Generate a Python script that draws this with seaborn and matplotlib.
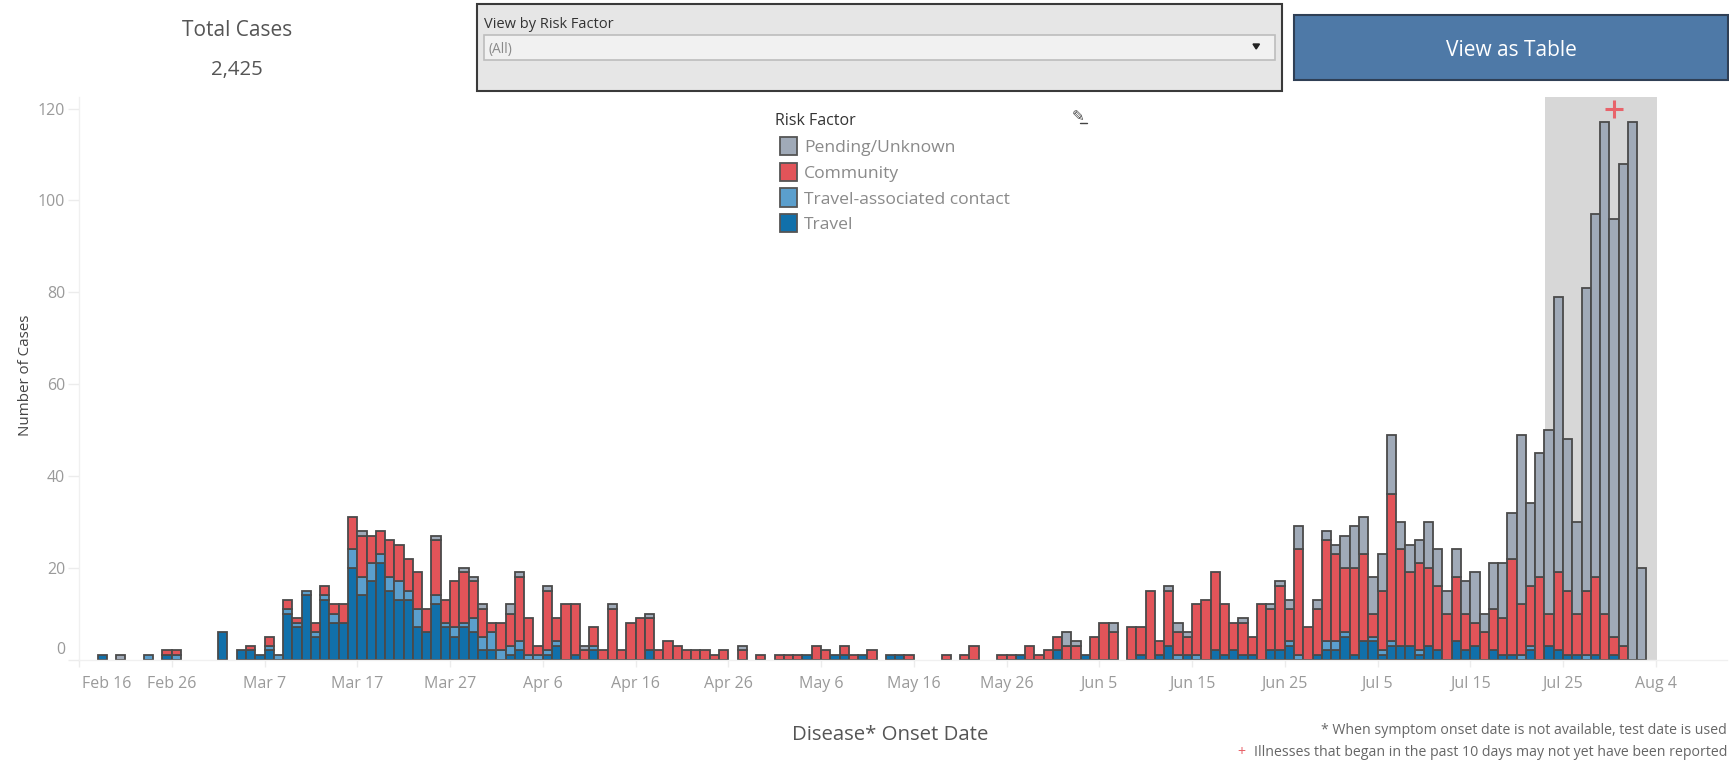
import numpy as np
import pandas as pd
import matplotlib
matplotlib.use("Agg")
import matplotlib.pyplot as plt
from matplotlib.patches import Rectangle, Polygon
from matplotlib.transforms import ScaledTranslation
import seaborn as sns

# cases per onset day, index 0 = Feb 16
travel = [0,0,1,0,0,0,0,0,0,1, 0,0,0,0,0,6,0,2,2,1, 2,0,10,7,14,5,13,8,8,20,
          14,17,21,15,13,13,7,6,12,7, 5,7,6,2,2,0,1,2,0,0, 1,3,0,1,0,2,0,0,0,0,
          0,2,0,0,0,0,0,0,0,0, 0,0,0,0,0,0,0,0,1,0, 0,1,1,0,1,0,0,1,1,0,
          0,0,0,0,0,0,0,0,0,0, 0,1,0,0,0,2,0,0,1,0, 0,0,0,0,1,0,1,3,0,1,
          0,0,2,1,2,1,1,0,2,2, 3,0,0,1,2,2,5,1,4,4, 1,3,3,3,1,3,2,0,4,2,
          3,0,2,1,1,0,2,0,3,2, 1,1,0,1,0,1,0,0,0]
contact = [0,0,0,0,0,0,0,1,0,0, 1,0,0,0,0,0,0,0,0,0, 1,1,1,1,1,1,1,2,0,4,
           4,4,2,3,4,2,4,0,2,1, 2,1,3,3,4,2,2,2,1,1, 1,1,0,0,0,1,0,0,0,0,
           0,0,0,0,0,0,0,0,0,0, 0,0,0,0,0,0,0,0,0,0, 0,0,0,0,0,0,0,0,0,0,
           0,0,0,0,0,0,0,0,0,0, 0,0,0,0,0,0,0,0,0,0, 0,0,0,0,0,0,0,0,1,0,
           1,0,0,0,0,0,0,0,0,0, 1,1,0,0,2,2,1,0,0,1, 1,1,0,0,1,0,0,0,0,0,
           0,0,0,0,0,1,1,0,0,0, 0,0,1,0,0,0,0,0,0]
community = [0,0,0,0,0,0,0,0,0,1, 1,0,0,0,0,0,0,0,1,0, 2,0,2,1,0,2,2,2,4,7,
             9,6,5,8,8,7,8,5,12,5, 10,11,8,6,2,6,7,14,8,2, 13,5,12,11,2,4,2,11,2,8,
             9,7,2,4,3,2,2,2,1,2, 0,2,0,1,0,1,1,1,0,3, 2,0,2,1,0,2,0,0,0,1,
             0,0,0,1,0,1,3,0,0,1, 1,0,3,1,2,3,3,3,0,5, 8,6,0,7,6,15,3,12,5,4,
             11,13,17,11,6,7,4,12,9,14, 7,23,7,10,22,19,14,19,19,5, 13,32,21,16,19,17,14,10,14,8,
             5,6,9,8,21,11,13,18,7,17, 14,9,14,17,10,4,3,0,0]
pending = [0,0,0,0,1,0,0,0,0,0, 0,0,0,0,0,0,0,0,0,0, 0,0,0,0,0,0,0,0,0,0,
           1,0,0,0,0,0,0,0,1,0, 0,1,1,1,0,0,2,1,0,0, 1,0,0,0,1,0,0,1,0,0,
           0,1,0,0,0,0,0,0,0,0, 0,1,0,0,0,0,0,0,0,0, 0,0,0,0,0,0,0,0,0,0,
           0,0,0,0,0,0,0,0,0,0, 0,0,0,0,0,0,3,1,0,0, 0,2,0,0,0,0,0,1,2,1,
           0,0,0,0,0,1,0,0,1,1, 2,5,0,2,2,2,7,9,8,8, 8,13,6,6,5,10,8,5,6,7,
           11,4,10,12,10,37,18,27,40,60, 33,20,66,79,107,91,105,117,20]

risk_names = ["Pending/Unknown", "Community", "Travel-associated contact", "Travel"]
risk_colors = ["#a0aab8", "#e25459", "#5b9fcd", "#1170aa"]
date_ticks = ["Feb 16", "Feb 26", "Mar 7", "Mar 17", "Mar 27", "Apr 6", "Apr 16", "Apr 26", "May 6",
              "May 16", "May 26", "Jun 5", "Jun 15", "Jun 25", "Jul 5", "Jul 15", "Jul 25", "Aug 4"]
count_ticks = [0, 20, 40, 60, 80, 100, 120]
recent_days = ("2020-07-23", "2020-08-04")

W, H = 1729, 765
start = pd.Timestamp("2020-02-16")


def fx(px):
    return px / W


def fy(py):
    return 1 - py / H


def label(px, py, txt, size, color="#555555", ha="center", va="center", **kw):
    fig.text(fx(px), fy(py), txt, fontsize=size, color=color, ha=ha, va=va, **kw)


def box(x0, y0, x1, y1, face, edge="none", lw=0, z=5):
    fig.add_artist(Rectangle((fx(x0), fy(y1)), fx(x1 - x0), (y1 - y0) / H, facecolor=face,
                             edgecolor=edge, linewidth=lw, transform=fig.transFigure, zorder=z))


sns.set_theme(style="white")
plt.rcParams["font.family"] = ["Open Sans", "DejaVu Sans"]

df = pd.DataFrame({"day": np.arange(len(travel)), "Travel": travel, "Travel-associated contact": contact,
                   "Community": community, "Pending/Unknown": pending})
long_df = df.melt(id_vars="day", var_name="risk", value_name="cases")

fig = plt.figure(figsize=(W / 100, H / 100), dpi=100)
ax = fig.add_axes([fx(79), fy(659.5), fx(1727 - 79), (659.5 - 97) / H])
ax.patch.set_alpha(0)

band = [(pd.Timestamp(d) - start).days for d in recent_days]
ax.axvspan(band[0] + 0.1, band[1] + 0.1, color="#d7d7d7", lw=0, zorder=0)

sns.histplot(data=long_df, x="day", weights="cases", hue="risk", hue_order=risk_names,
             palette=risk_colors, multiple="stack", binwidth=1, binrange=(0, len(travel)),
             alpha=1, edgecolor="#4a4a4a", linewidth=1.3, legend=False, zorder=2, ax=ax)
for p in list(ax.patches):
    if p.get_height() == 0:
        p.remove()

ax.set_xlim(0, (1727 - 79) / 9.275)
ax.set_ylim(0, (659.5 - 97) / 4.59)
ax.set_xlabel("")
ax.set_ylabel("")
sns.despine(ax=ax, top=True, right=True)
for s in ["left", "bottom"]:
    ax.spines[s].set_color("#f0f0f0")
    ax.spines[s].set_linewidth(1)

tick_pos = [(pd.Timestamp(t + " 2020") - start).days for t in date_ticks]
ax.set_xticks(tick_pos)
ax.set_xticklabels(date_ticks)
ax.set_yticks(count_ticks)
ax.tick_params(axis="x", bottom=True, length=5, width=1, color="#ececec", labelcolor="#9a9a9a", labelsize=11.5, pad=7)
ax.tick_params(axis="y", left=True, length=8, width=1, color="#ececec", labelcolor="#9a9a9a", labelsize=11.5, pad=2)

# first labels sit inside the axis end, like the original dashboard
first_x = ax.get_xticklabels()[0]
first_x.set_ha("left")
first_x.set_transform(first_x.get_transform() + ScaledTranslation(0.03, 0, fig.dpi_scale_trans))
first_y = ax.get_yticklabels()[0]
first_y.set_va("bottom")
first_y.set_transform(first_y.get_transform() + ScaledTranslation(0, 0.02, fig.dpi_scale_trans))

# the + above the recent days
fig.add_artist(plt.Line2D([fx(1613.5)], [fy(109)], marker="+", markersize=13, markeredgewidth=2.2,
                          color="#e8636a", transform=fig.transFigure, zorder=6))

label(237, 31, "Total Cases", 15)
label(237, 70, "2,425", 14.7)

# filter box
box(476.5, 4, 1282, 90.5, "#e6e6e6", "#3a3a3a", 1.5)
label(484, 24, "View by Risk Factor", 10.5, color="#333333", ha="left", zorder=7)
box(484, 35, 1274.5, 60, "#f1f1f1", "#bdbdbd", 1.2, z=6)
label(488, 50, "(All)", 10, color="#8a8a8a", ha="left", zorder=7)
fig.add_artist(Polygon([[fx(1253), fy(44)], [fx(1259.5), fy(44)], [fx(1256.2), fy(49)]],
                       closed=True, color="#222222", transform=fig.transFigure, zorder=7))

# button
box(1294, 15.5, 1727.5, 79.5, "#4e79a7", "#2f3f55", 1.5)
label(1511, 50, "View as Table", 15, color="white", fontweight="medium", zorder=7)

# legend
label(775, 121, "Risk Factor", 11.5, color="#333333", ha="left", fontweight="medium", zorder=7)
for name, col, yc in zip(risk_names, risk_colors, [146, 172, 197.5, 223]):
    box(779.5, yc - 9, 797, yc + 9, col, "#555555", 1.3, z=7)
    label(804, yc + 2, name, 12.6, color="#8a8a8a", ha="left", zorder=7)

# pencil icon
label(1078, 117, "\u270e", 11, color="#444444", family="DejaVu Sans", zorder=7)
fig.add_artist(plt.Line2D([fx(1080), fx(1087)], [fy(123), fy(123)], color="#444444", lw=1,
                          transform=fig.transFigure))

label(25.5, 375, "Number of Cases", 10.9, color="#444444", rotation=90)
label(890, 735, "Disease* Onset Date", 14.7, color="#555555")
label(1727, 730, "* When symptom onset date is not available, test date is used", 10.2, color="#666666", ha="right")
label(1727, 753, "Illnesses that began in the past 10 days may not yet have been reported", 10.2,
      color="#666666", ha="right")
label(1241, 753, "+", 10.2, color="#e8636a", ha="center")

fig.savefig("out.png", dpi=100)
